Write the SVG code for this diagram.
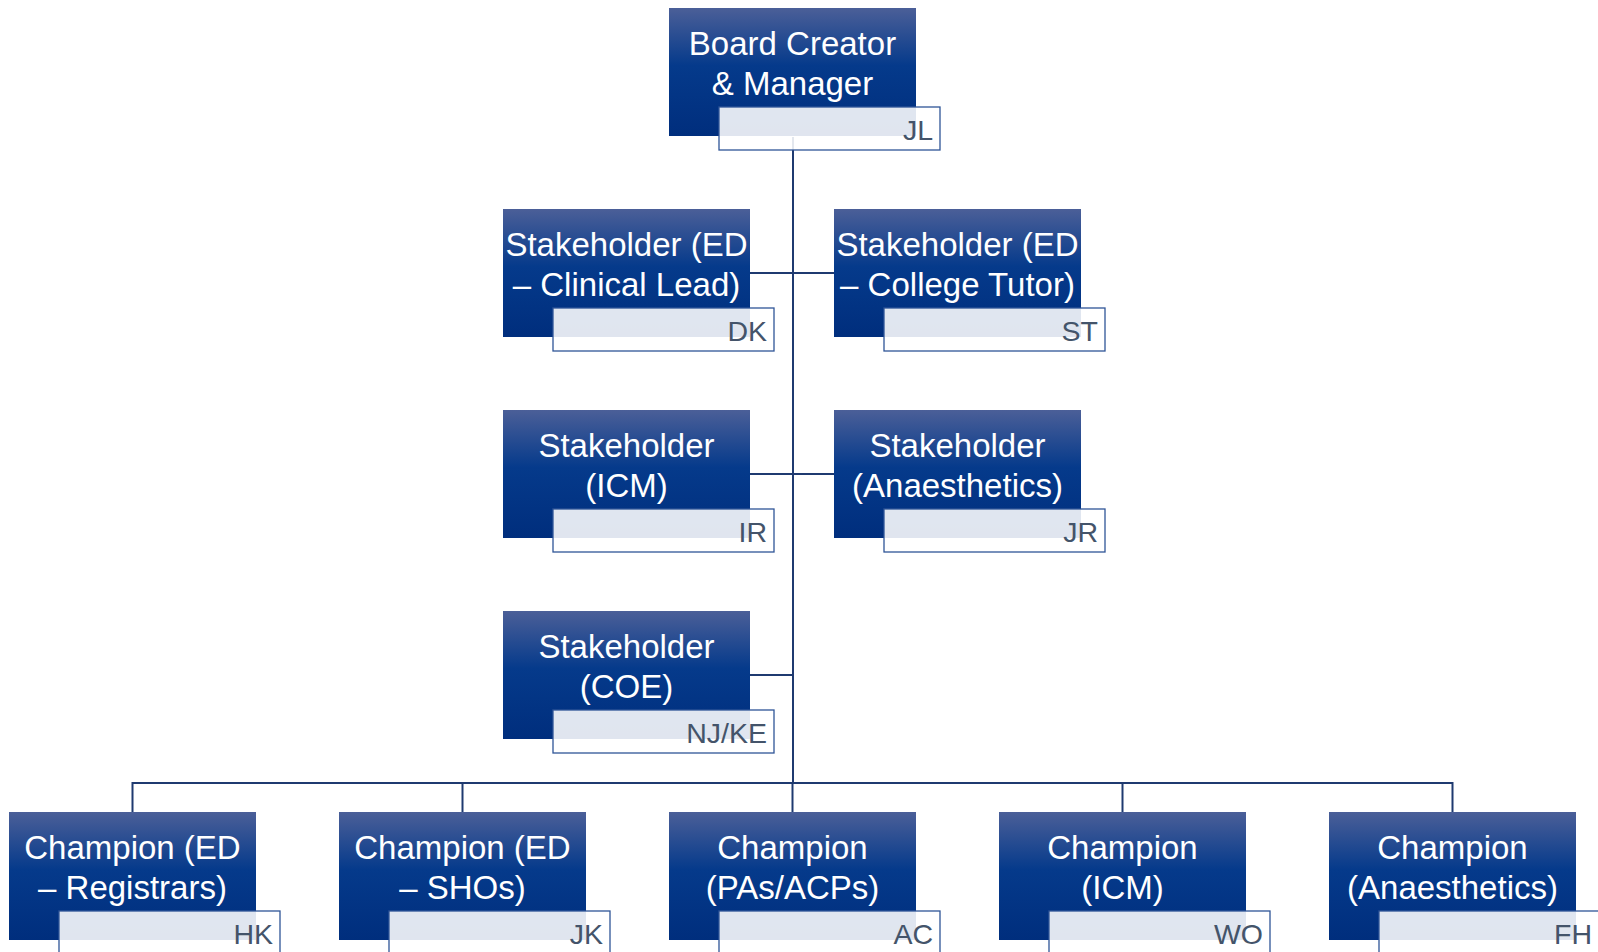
<svg xmlns="http://www.w3.org/2000/svg" width="1598" height="952" viewBox="0 0 1598 952">
  <defs>
    <linearGradient id="g" x1="0" y1="0" x2="0" y2="1">
      <stop offset="0" stop-color="#4B5F98"/>
      <stop offset="0.45" stop-color="#053A8B"/>
      <stop offset="1" stop-color="#002E7D"/>
    </linearGradient>
    <style>
      .box { fill: url(#g); }
      .lab { fill: #FFFFFF; fill-opacity: 0.88; stroke: #2F5597; stroke-width: 1.3; }
      .t { font-family: "Liberation Sans", Arial, sans-serif; font-size: 33px; fill: #FFFFFF; text-anchor: middle; }
      .i { font-family: "Liberation Sans", Arial, sans-serif; font-size: 28.5px; fill: #44546A; text-anchor: end; }
      .c { fill: none; stroke: #1F3A70; stroke-width: 2; }
    </style>
  </defs>
  <rect width="1598" height="952" fill="#FFFFFF"/>

  <g id="connectors">
    <path class="c" d="M793 137 V783"/>
    <path class="c" d="M750 273 H834"/>
    <path class="c" d="M750 474 H834"/>
    <path class="c" d="M750 675 H793"/>
    <path class="c" d="M132.5 812 V783 H1452.5 V812"/>
    <path class="c" d="M462.5 783 V812"/>
    <path class="c" d="M792.5 783 V812"/>
    <path class="c" d="M1122.5 783 V812"/>
  </g>

  <g id="n-board">
    <rect class="box" x="669" y="8" width="247" height="128"/>
    <text class="t" x="792.5" y="55">Board Creator</text>
    <text class="t" x="792.5" y="95">&amp; Manager</text>
    <rect class="lab" x="719" y="107" width="221" height="43"/>
    <text class="i" x="933" y="140">JL</text>
  </g>

  <g id="n-ed-clinical">
    <rect class="box" x="503" y="209" width="247" height="128"/>
    <text class="t" x="626.5" y="256">Stakeholder (ED</text>
    <text class="t" x="626.5" y="296">– Clinical Lead)</text>
    <rect class="lab" x="553" y="308" width="221" height="43"/>
    <text class="i" x="767" y="341">DK</text>
  </g>

  <g id="n-ed-tutor">
    <rect class="box" x="834" y="209" width="247" height="128"/>
    <text class="t" x="957.5" y="256">Stakeholder (ED</text>
    <text class="t" x="957.5" y="296">– College Tutor)</text>
    <rect class="lab" x="884" y="308" width="221" height="43"/>
    <text class="i" x="1098" y="341">ST</text>
  </g>

  <g id="n-icm">
    <rect class="box" x="503" y="410" width="247" height="128"/>
    <text class="t" x="626.5" y="457">Stakeholder</text>
    <text class="t" x="626.5" y="497">(ICM)</text>
    <rect class="lab" x="553" y="509" width="221" height="43"/>
    <text class="i" x="767" y="542">IR</text>
  </g>

  <g id="n-anaesthetics">
    <rect class="box" x="834" y="410" width="247" height="128"/>
    <text class="t" x="957.5" y="457">Stakeholder</text>
    <text class="t" x="957.5" y="497">(Anaesthetics)</text>
    <rect class="lab" x="884" y="509" width="221" height="43"/>
    <text class="i" x="1098" y="542">JR</text>
  </g>

  <g id="n-coe">
    <rect class="box" x="503" y="611" width="247" height="128"/>
    <text class="t" x="626.5" y="658">Stakeholder</text>
    <text class="t" x="626.5" y="698">(COE)</text>
    <rect class="lab" x="553" y="710" width="221" height="43"/>
    <text class="i" x="767" y="743">NJ/KE</text>
  </g>

  <g id="n-ch-registrars">
    <rect class="box" x="9" y="812" width="247" height="128"/>
    <text class="t" x="132.5" y="859">Champion (ED</text>
    <text class="t" x="132.5" y="899">– Registrars)</text>
    <rect class="lab" x="59" y="911" width="221" height="43"/>
    <text class="i" x="273" y="944">HK</text>
  </g>

  <g id="n-ch-shos">
    <rect class="box" x="339" y="812" width="247" height="128"/>
    <text class="t" x="462.5" y="859">Champion (ED</text>
    <text class="t" x="462.5" y="899">– SHOs)</text>
    <rect class="lab" x="389" y="911" width="221" height="43"/>
    <text class="i" x="603" y="944">JK</text>
  </g>

  <g id="n-ch-pas">
    <rect class="box" x="669" y="812" width="247" height="128"/>
    <text class="t" x="792.5" y="859">Champion</text>
    <text class="t" x="792.5" y="899">(PAs/ACPs)</text>
    <rect class="lab" x="719" y="911" width="221" height="43"/>
    <text class="i" x="933" y="944">AC</text>
  </g>

  <g id="n-ch-icm">
    <rect class="box" x="999" y="812" width="247" height="128"/>
    <text class="t" x="1122.5" y="859">Champion</text>
    <text class="t" x="1122.5" y="899">(ICM)</text>
    <rect class="lab" x="1049" y="911" width="221" height="43"/>
    <text class="i" x="1263" y="944">WO</text>
  </g>

  <g id="n-ch-anaesthetics">
    <rect class="box" x="1329" y="812" width="247" height="128"/>
    <text class="t" x="1452.5" y="859">Champion</text>
    <text class="t" x="1452.5" y="899">(Anaesthetics)</text>
    <rect class="lab" x="1379" y="911" width="221" height="43"/>
    <text class="i" x="1592" y="944">FH</text>
  </g>
</svg>
